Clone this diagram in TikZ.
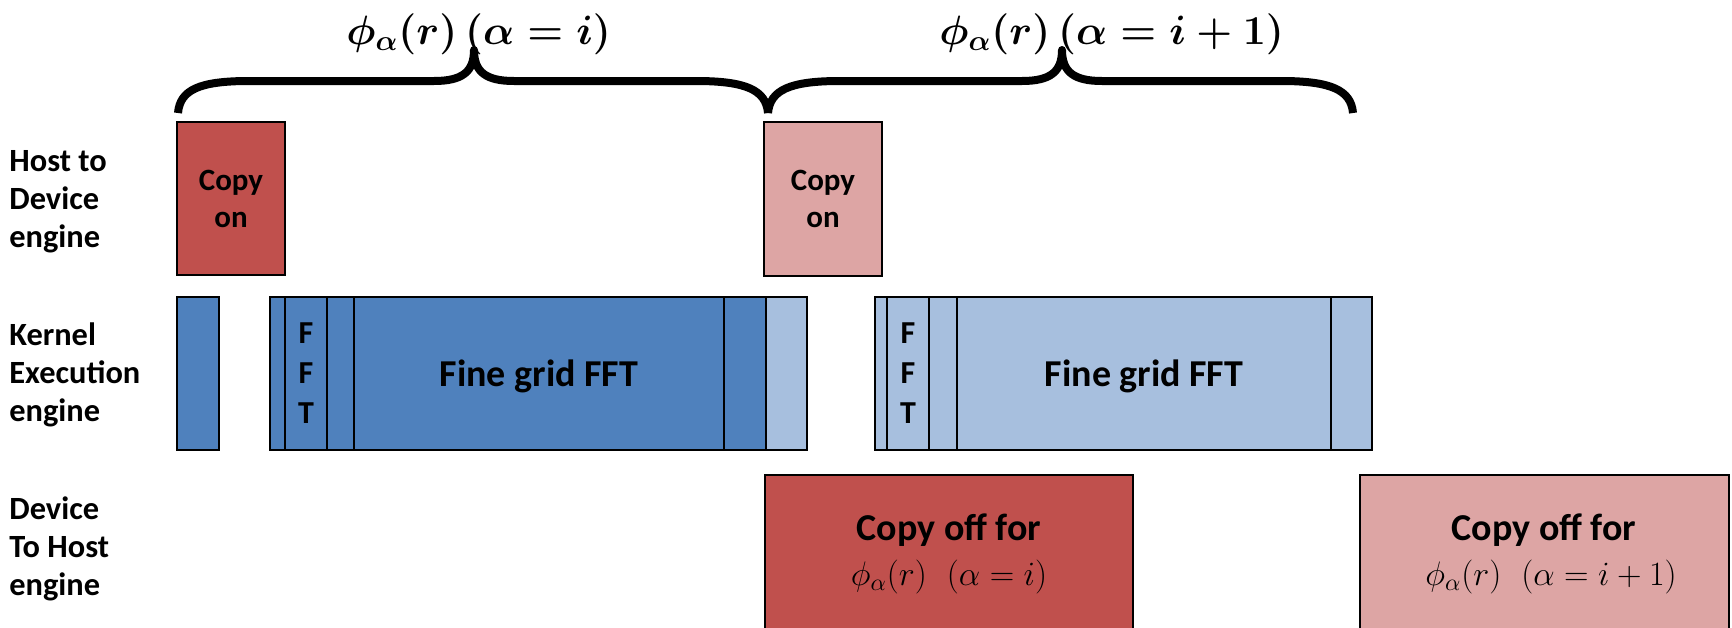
\RequirePackage{fix-cm}
\documentclass[tikz,border=0pt]{standalone}
\usepackage[no-math]{fontspec}
\setmainfont{Carlito}

\definecolor{copyA}{HTML}{C0504D}
\definecolor{copyB}{HTML}{DDA5A4}
\definecolor{kernA}{HTML}{4F81BD}
\definecolor{kernB}{HTML}{A7BFDE}

% a filled, outlined time slot given by its corners (in px units)
\newcommand\slotcell[6]{%
  \node[cell, fill=#6, minimum width={(#4-#2)*0.5pt}, minimum height={(#5-#3)*0.5pt}]
    (#1) at ({(#2+#4)/2},{(#3+#5)/2}) {};}

\begin{document}
\begin{tikzpicture}[x=0.5pt,y=-0.5pt,
  cell/.style={draw=black, line width=1pt, inner sep=0pt, outer sep=0pt},
  rowlabel/.style={anchor=base west, inner sep=0pt, font=\fontsize{16.2}{19}\bfseries\selectfont},
  ontext/.style={anchor=base, inner sep=0pt, font=\fontsize{15.5}{18.5}\bfseries\selectfont},
  ffttext/.style={anchor=base, inner sep=0pt, font=\fontsize{16}{20}\bfseries\selectfont},
  gridtext/.style={anchor=base, inner sep=0pt, font=\fontsize{19}{22}\bfseries\selectfont},
  offtext/.style={anchor=base, inner sep=0pt, font=\fontsize{19}{22.5}\bfseries\selectfont},
  toplabel/.style={anchor=base west, inner sep=0pt, font=\fontsize{20.5}{24}\selectfont},
  bracestroke/.style={line width=4pt, line cap=butt, line join=round}]

\useasboundingbox (0,0) rectangle (1732,627);
\clip (0,0) rectangle (1732,627);

% engine names
\node[rowlabel] (h2d) at (9,171) {\begin{tabular}[t]{@{}l@{}}Host to\\Device\\engine\end{tabular}};
\node[rowlabel] (kex) at (9,345) {\begin{tabular}[t]{@{}l@{}}Kernel\\Execution\\engine\end{tabular}};
\node[rowlabel] (d2h) at (9,519) {\begin{tabular}[t]{@{}l@{}}Device\\To Host\\engine\end{tabular}};

% host-to-device copies
\slotcell{on1}{177}{122}{285}{275}{copyA}
\slotcell{on2}{764}{122}{882}{276}{copyB}
\node[ontext] (on1txt) at (231,190) {\begin{tabular}[t]{@{}c@{}}Copy\\on\end{tabular}};
\node[ontext] (on2txt) at (823,190) {\begin{tabular}[t]{@{}c@{}}Copy\\on\end{tabular}};

% kernel execution, first orbital
\slotcell{k0}{177}{297}{219}{450}{kernA}
\slotcell{k1a}{270}{297}{285}{450}{kernA}
\slotcell{k1b}{285}{297}{327}{450}{kernA}
\slotcell{k1c}{327}{297}{354}{450}{kernA}
\slotcell{k1d}{354}{297}{724}{450}{kernA}
\slotcell{k1e}{724}{297}{766}{450}{kernA}
\slotcell{k1f}{766}{297}{807}{450}{kernB}
\node[ffttext] (fft1) at (306,343) {\begin{tabular}[t]{@{}c@{}}F\\F\\T\end{tabular}};
\node[gridtext] (grid1) at (539,386) {Fine grid FFT};

% kernel execution, second orbital
\slotcell{k2a}{875}{297}{887}{450}{kernB}
\slotcell{k2b}{887}{297}{929}{450}{kernB}
\slotcell{k2c}{929}{297}{957}{450}{kernB}
\slotcell{k2d}{957}{297}{1331}{450}{kernB}
\slotcell{k2e}{1331}{297}{1372}{450}{kernB}
\node[ffttext] (fft2) at (908,343) {\begin{tabular}[t]{@{}c@{}}F\\F\\T\end{tabular}};
\node[gridtext] (grid2) at (1144,386) {Fine grid FFT};

% device-to-host copies
\slotcell{off1}{765}{475}{1133}{670}{copyA}
\slotcell{off2}{1360}{475}{1729}{670}{copyB}
\node[offtext] (off1txt) at (949,540) {\begin{tabular}[t]{@{}c@{}}Copy off for\\{\fontsize{17}{17}\selectfont\mdseries$\phi_\alpha(r)\hspace{10pt}(\alpha=i)$}\end{tabular}};
\node[offtext] (off2txt) at (1544,540) {\begin{tabular}[t]{@{}c@{}}Copy off for\\{\fontsize{17}{17}\selectfont\mdseries\hspace*{7pt}$\phi_\alpha(r)\hspace{10pt}(\alpha=i+1)$}\end{tabular}};

% orbital spans
\draw[bracestroke] (178,113) .. controls (180,90) and (199,81) .. (249,81)
  -- (434,81) .. controls (462,81) and (474,72) .. (474,50)
  .. controls (474,72) and (486,81) .. (514,81)
  -- (696,81) .. controls (746,81) and (766,90) .. (768,113);
\draw[bracestroke] (768,113) .. controls (770,90) and (790,81) .. (840,81)
  -- (1022,81) .. controls (1050,81) and (1062,72) .. (1062,50)
  .. controls (1062,72) and (1074,81) .. (1102,81)
  -- (1281,81) .. controls (1331,81) and (1351,90) .. (1353,113);
\node[toplabel] (span1) at (346,44) {{\boldmath$\phi_\alpha(r)\,(\alpha=i)$}};
\node[toplabel] (span2) at (939,44) {{\boldmath$\phi_\alpha(r)\,(\alpha=i+1)$}};
\end{tikzpicture}
\end{document}
